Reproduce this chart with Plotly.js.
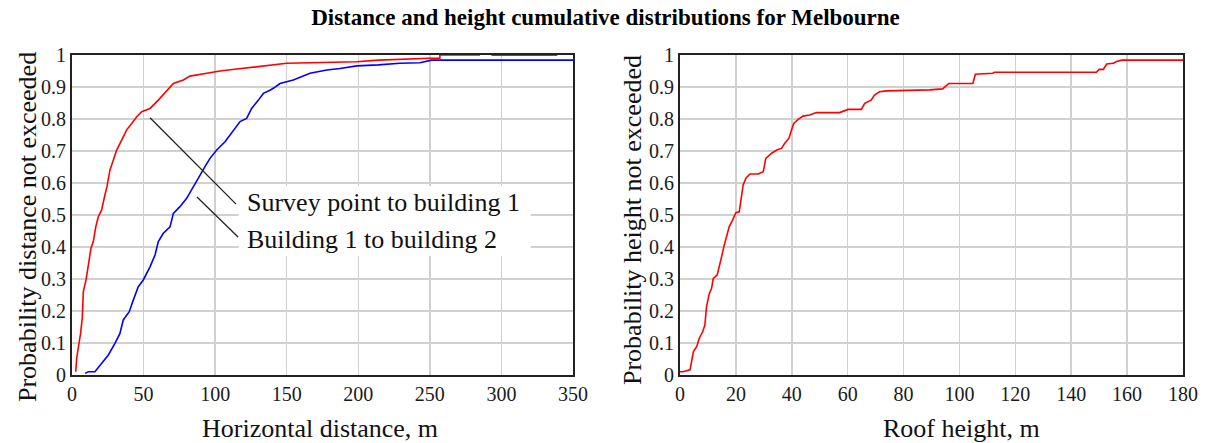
<!DOCTYPE html>
<html>
<head>
<meta charset="utf-8">
<script src="https://cdn.plot.ly/plotly-3.0.1.min.js"></script>
<style>html,body{margin:0;padding:0;background:#fff;}#chart{width:1211px;height:443px;}</style>
</head>
<body>
<div id="chart"></div>
<script>
// Left panel: horizontal distance CDFs (m, probability)
const surveyToB1X = [2.6, 3.3, 4.9, 6.0, 7.2, 7.9, 9.8, 11.4, 13.3, 14.9, 16.6, 18.4, 20.7, 23.0, 24.5, 26.5, 28.9, 31.2, 34.7, 38.2, 41.7, 45.2, 48.7, 54.5, 60.3, 66.2, 70.8, 77.8, 82.4, 94.1, 103.4, 115, 129, 140.6, 150, 198.9, 214, 250, 257, 257, 285];
const surveyToB1Y = [0.01, 0.053, 0.10, 0.13, 0.18, 0.26, 0.297, 0.35, 0.397, 0.417, 0.463, 0.495, 0.516, 0.5625, 0.59, 0.64, 0.672, 0.703, 0.734, 0.766, 0.786, 0.807, 0.823, 0.833, 0.859, 0.89, 0.911, 0.922, 0.934, 0.943, 0.95, 0.956, 0.963, 0.969, 0.974, 0.979, 0.984, 0.99, 0.99, 1.0, 1.0];

const b1ToB2X = [9.1, 11.4, 16.0, 20.7, 25.4, 30.0, 33.5, 35.8, 40.0, 42.8, 46.3, 49.8, 54.5, 58.0, 60.3, 63.8, 68.5, 70.8, 75.4, 80.1, 83.6, 88.2, 92.9, 96.4, 101.1, 106.9, 112.7, 117.4, 122.0, 125.5, 130.2, 133.7, 138.3, 140.6, 145.3, 154.6, 166.3, 178.0, 187.2, 199.0, 214.0, 229.0, 243.0, 245.4, 251.3, 350, null, 293, 339];
const b1ToB2Y = [0.005, 0.01, 0.01, 0.036, 0.0625, 0.099, 0.13, 0.172, 0.198, 0.234, 0.276, 0.297, 0.338, 0.375, 0.417, 0.443, 0.463, 0.505, 0.526, 0.552, 0.58, 0.615, 0.651, 0.677, 0.703, 0.729, 0.766, 0.792, 0.802, 0.833, 0.859, 0.88, 0.89, 0.896, 0.911, 0.922, 0.943, 0.953, 0.958, 0.966, 0.969, 0.974, 0.976, 0.979, 0.984, 0.984, null, 1.0, 1.0];

// Right panel: roof height CDF (m, probability)
const roofX = [0, 0.95, 3.6, 4.2, 4.8, 6.0, 6.9, 8.1, 8.9, 9.5, 10.5, 11.3, 11.9, 13.3, 14.3, 14.9, 15.7, 16.7, 17.6, 18.8, 20.0, 21.2, 22.0, 22.6, 23.6, 25.0, 28.0, 29.8, 30.7, 32.8, 34.6, 36.3, 37.5, 39.0, 39.9, 40.7, 42.3, 44.0, 46.4, 48.8, 57.1, 60.1, 64.9, 66.1, 68.4, 69.6, 71.4, 73.8, 89.3, 94.0, 96.2, 104.8, 105.7, 111.9, 112.5, 149.0, 150.0, 151.5, 152.7, 155.1, 156.0, 157.5, 158.1, 180];
const roofY = [0.01, 0.01, 0.016, 0.042, 0.073, 0.089, 0.115, 0.135, 0.156, 0.214, 0.255, 0.271, 0.302, 0.3125, 0.344, 0.37, 0.401, 0.4375, 0.463, 0.484, 0.507, 0.51, 0.552, 0.594, 0.615, 0.628, 0.628, 0.635, 0.677, 0.693, 0.703, 0.708, 0.724, 0.74, 0.766, 0.786, 0.799, 0.809, 0.8125, 0.82, 0.82, 0.83, 0.83, 0.849, 0.859, 0.875, 0.885, 0.888, 0.891, 0.894, 0.911, 0.911, 0.94, 0.943, 0.946, 0.946, 0.955, 0.955, 0.972, 0.974, 0.979, 0.982, 0.984, 0.984];

const seriesNames = ["Survey point to building 1", "Building 1 to building 2"];
const chartTitle = "Distance and height cumulative distributions for Melbourne";
const xTitleLeft = "Horizontal distance, m";
const yTitleLeft = "Probability distance not exceeded";
const xTitleRight = "Roof height, m";
const yTitleRight = "Probability height not exceeded";

const serif = "Liberation Serif, Times New Roman, serif";
const tickFont = {family: serif, size: 20, color: "#1a1a1a"};
const titleFont = {family: serif, size: 26, color: "#111"};

const traces = [
  {x: surveyToB1X, y: surveyToB1Y, xaxis: "x", yaxis: "y", mode: "lines", name: seriesNames[0],
   line: {color: "#ff0000", width: 1.6}, connectgaps: false},
  {x: b1ToB2X, y: b1ToB2Y, xaxis: "x", yaxis: "y", mode: "lines", name: seriesNames[1],
   line: {color: "#0000ff", width: 1.6}, connectgaps: false},
  {x: roofX, y: roofY, xaxis: "x2", yaxis: "y2", mode: "lines", name: "Roof height",
   line: {color: "#ff0000", width: 1.6}}
];

const axBase = {
  showgrid: true, gridcolor: "#d0d0d0", gridwidth: 1.5, zeroline: false,
  showline: true, linecolor: "#222", linewidth: 2, mirror: true,
  ticks: "", tickfont: tickFont, layer: "below traces", fixedrange: true
};

const yDom = [(443 - 375) / 443, (443 - 55) / 443];

const layout = {
  width: 1211, height: 443,
  margin: {l: 0, r: 0, t: 0, b: 0},
  paper_bgcolor: "#fff", plot_bgcolor: "#fff",
  showlegend: false,
  title: {text: "<b>" + chartTitle + "</b>", font: {family: serif, size: 23, color: "#000"},
          x: 0.5, xanchor: "center", y: (443 - 17) / 443, yanchor: "middle", xref: "paper", yref: "paper"},
  xaxis: Object.assign({}, axBase, {domain: [72 / 1211, 573 / 1211], range: [0, 350], dtick: 50, tick0: 0, anchor: "y"}),
  yaxis: Object.assign({}, axBase, {domain: yDom, range: [0, 1], dtick: 0.1, tick0: 0, anchor: "x"}),
  xaxis2: Object.assign({}, axBase, {domain: [680 / 1211, 1183 / 1211], range: [0, 180], dtick: 20, tick0: 0, anchor: "y2"}),
  yaxis2: Object.assign({}, axBase, {domain: yDom, range: [0, 1], dtick: 0.1, tick0: 0, anchor: "x2"}),
  shapes: [
    {type: "rect", xref: "x", yref: "y", x0: 116.5, x1: 320.5, y0: 0.372, y1: 0.591,
     fillcolor: "#fff", line: {width: 0}, layer: "between"},
    {type: "line", xref: "x", yref: "y", x0: 54.5, y0: 0.804, x1: 114.6, y1: 0.534,
     line: {color: "#222", width: 1.3}, layer: "above"},
    {type: "line", xref: "x", yref: "y", x0: 87.3, y0: 0.556, x1: 116.0, y1: 0.431,
     line: {color: "#222", width: 1.3}, layer: "above"}
  ],
  annotations: [
    {text: seriesNames[0], xref: "x", yref: "y", x: 120.9, y: 0.54, xanchor: "left", yanchor: "middle",
     showarrow: false, font: titleFont},
    {text: seriesNames[1], xref: "x", yref: "y", x: 120.9, y: 0.425, xanchor: "left", yanchor: "middle",
     showarrow: false, font: titleFont},
    {text: xTitleLeft, xref: "paper", yref: "paper", x: 320 / 1211, y: (443 - 428) / 443,
     xanchor: "center", yanchor: "middle", showarrow: false, font: titleFont},
    {text: xTitleRight, xref: "paper", yref: "paper", x: 962 / 1211, y: (443 - 428) / 443,
     xanchor: "center", yanchor: "middle", showarrow: false, font: titleFont},
    {text: yTitleLeft, xref: "paper", yref: "paper", x: 28 / 1211, y: (443 - 227) / 443,
     xanchor: "center", yanchor: "middle", textangle: -90, showarrow: false, font: titleFont},
    {text: yTitleRight, xref: "paper", yref: "paper", x: 632 / 1211, y: (443 - 220) / 443,
     xanchor: "center", yanchor: "middle", textangle: -90, showarrow: false, font: titleFont}
  ]
};

Plotly.newPlot("chart", traces, layout, {displayModeBar: false, staticPlot: true});
</script>
</body>
</html>
